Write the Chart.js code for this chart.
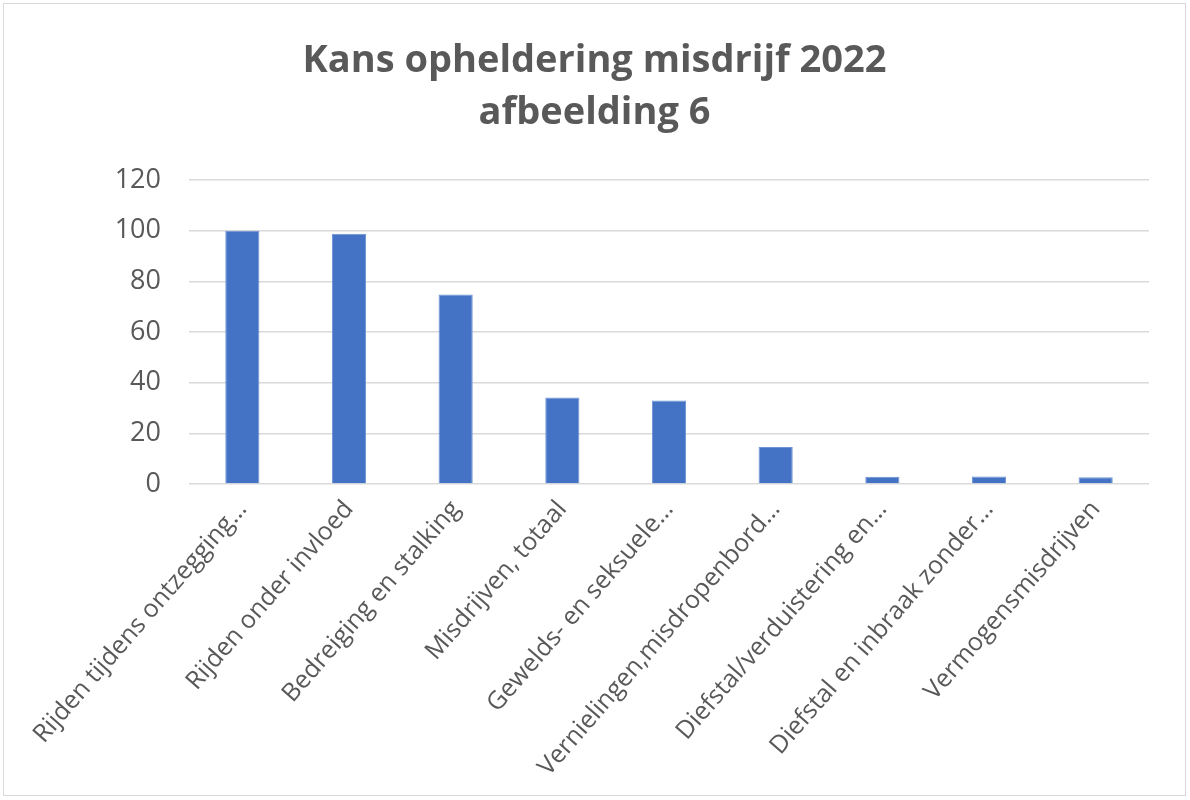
<!doctype html>
<html>
  <head>
    <title>Kans opheldering misdrijf 2022</title>
    <script src="https://cdn.jsdelivr.net/npm/chart.js@4"></script>
    <style>
      body { margin: 0; background: #fff; }
      #box {
        position: absolute; left: 3px; top: 3px;
        width: 1181px; height: 791px;
        border: 1px solid #d9d9d9;
      }
    </style>
  </head>
  <body>
    <div id="box"><canvas id="chart"></canvas></div>
    <script>
      var categories = [
        "Rijden tijdens ontzegging\u2026",
        "Rijden onder invloed",
        "Bedreiging en stalking",
        "Misdrijven, totaal",
        "Gewelds- en seksuele\u2026",
        "Vernielingen,misdropenbord\u2026",
        "Diefstal/verduistering en\u2026",
        "Diefstal en inbraak zonder\u2026",
        "Vermogensmisdrijven",
      ];
      var kans = [100, 98.8, 74.8, 34.2, 33, 14.6, 2.9, 3.0, 2.7];
      var titleLines = ["Kans opheldering misdrijf 2022", "afbeelding 6"];

      var grey = "#595959";
      var ctx = document.getElementById("chart").getContext("2d");
      var chart = new Chart(ctx, {
        type: "bar",
        data: {
          labels: categories,
          datasets: [
            {
              label: "Kans opheldering",
              data: kans,
              backgroundColor: "#4472c4",
              borderColor: "#6f93d6",
              borderWidth: 1,
              categoryPercentage: 1,
              barPercentage: 0.32,
            },
          ],
        },
        options: {
          animation: false,
          responsive: true,
          maintainAspectRatio: false,
          layout: { padding: { left: 36, right: 36, top: 31, bottom: 0 } },
          plugins: {
            legend: { display: false },
            tooltip: { enabled: false },
            title: {
              display: true,
              text: titleLines,
              color: grey,
              font: { family: "Open Sans", size: 38, weight: "bold", lineHeight: 1.37 },
              padding: { top: 0, bottom: 41 },
            },
          },
          scales: {
            x: {
              // fixed height so the plot bottom lands where the original has it
              afterFit: function (scale) {
                scale.height = 311;
              },
              grid: { display: false },
              border: { display: false },
              ticks: {
                color: grey,
                font: { family: "Open Sans", size: 25 },
                maxRotation: 49,
                minRotation: 49,
                autoSkip: false,
              },
            },
            y: {
              min: 0,
              max: 120,
              afterFit: function (scale) {
                scale.width = 149;
              },
              grid: { color: "#d9d9d9", lineWidth: 1.5, drawTicks: false },
              border: { display: false },
              ticks: {
                stepSize: 20,
                color: grey,
                font: { family: "Open Sans", size: 27 },
                padding: 28,
              },
            },
          },
        },
      });
    </script>
  </body>
</html>
